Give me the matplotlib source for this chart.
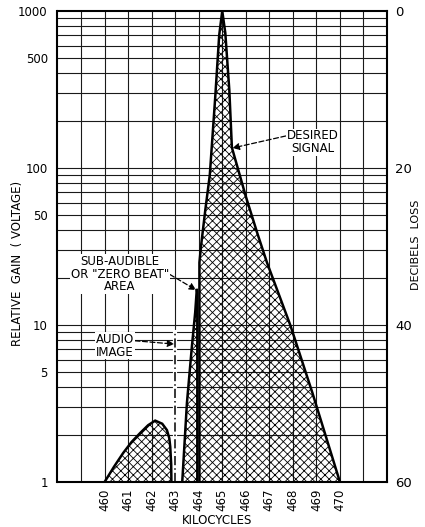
import numpy as np
import matplotlib
matplotlib.use("Agg")
import matplotlib.pyplot as plt

plt.rcParams['font.family'] = ['DejaVu Sans']
plt.rcParams['hatch.linewidth'] = 0.6

# Frequency axis (kHz) and gain axis (relative voltage)
x_min, x_max = 458, 472
x_ticks = [460, 461, 462, 463, 464, 465, 466, 467, 468, 469, 470]
y_ticks = [1, 5, 10, 50, 100, 500, 1000]
db_ticks = [0, 20, 40, 60]

# Main response around the 465 kc intermediate frequency
main_freq = [464.03, 464.03, 464.10, 464.28, 464.47, 464.70, 464.87, 465.00,
             465.13, 465.30, 465.41, 466.00, 466.50, 466.90, 467.90, 468.83, 470.00]
main_gain = [1.0, 25.0, 32.0, 54.0, 90.0, 280.0, 700.0, 1000.0,
             724.0, 314.0, 135.0, 66.0, 38.0, 25.0, 9.9, 3.7, 1.0]

# Sub-audible ("zero beat") spike just below 464 kc
spike_freq = [463.30, 463.50, 463.71, 463.85, 463.92, 463.94, 463.94]
spike_gain = [1.0, 3.2, 7.3, 12.0, 17.0, 16.0, 1.0]

# Low-frequency lobe between 460 and 463 kc
lobe_freq = [460.00, 460.40, 460.79, 461.15, 461.51, 461.85, 462.15, 462.45,
             462.65, 462.75, 462.79, 462.83, 462.84]
lobe_gain = [1.0, 1.25, 1.53, 1.80, 2.05, 2.30, 2.46, 2.35,
             2.14, 1.90, 1.68, 1.30, 1.0]

# Audio image marker
image_freq = 463
image_top = 9.0

fig = plt.figure(figsize=(4.25, 5.27), dpi=100)
ax = fig.add_axes([57.5 / 425, 1 - 482 / 527, 329.5 / 425, 471 / 527])
ax.set_xscale('linear')
ax.set_yscale('log')
ax.set_xlim(x_min, x_max)
ax.set_ylim(1, 1000)

# Grid: every kc vertically, 1..9 per decade horizontally
grid_kw = dict(color='#1a1a1a', lw=0.8, zorder=1)
for f in range(x_min + 1, x_max):
    ax.axvline(f, **grid_kw)
for dec in [1, 10, 100]:
    for m in range(1, 10):
        v = dec * m
        if 1 < v < 1000:
            ax.axhline(v, **grid_kw)

def hatched(fx, gy):
    ax.fill(fx, gy, facecolor='none', edgecolor='black', hatch='xxxx',
            linewidth=0, zorder=2)
    ax.plot(fx, gy, color='black', lw=1.8, zorder=3, solid_joinstyle='miter')

hatched(main_freq, main_gain)
hatched(spike_freq, spike_gain)
hatched(lobe_freq, lobe_gain)

# Audio image: dash-dot marker replacing the grid line
ax.plot([image_freq, image_freq], [1, image_top], color='white', lw=3, zorder=2)
ax.plot([image_freq, image_freq], [1, image_top], color='black', lw=1.1,
        ls=(0, (6, 2, 1, 2)), zorder=3)

for s in ax.spines.values():
    s.set_linewidth(1.5)
    s.set_zorder(4)

ax.set_xticks(x_ticks)
ax.set_xticklabels([str(t) for t in x_ticks], rotation=90, fontsize=8.5)
ax.set_yticks(y_ticks)
ax.set_yticklabels([str(t) for t in y_ticks], fontsize=8.5)
ax.yaxis.set_minor_locator(matplotlib.ticker.NullLocator())
ax.tick_params(axis='both', length=0)
ax.tick_params(axis='y', pad=7)
ax.tick_params(axis='x', pad=5)

# Decibels loss relative to the 1000 reference
ax2 = ax.twinx()
ax2.set_yscale('log')
ax2.set_ylim(1, 1000)
ax2.set_yticks([1000 / 10 ** (d / 20) for d in db_ticks])
ax2.set_yticklabels([str(d) for d in db_ticks], fontsize=9.5)
ax2.yaxis.set_minor_locator(matplotlib.ticker.NullLocator())
ax2.tick_params(axis='y', length=0, pad=6)
for s in ax2.spines.values():
    s.set_visible(False)

box = dict(facecolor='white', edgecolor='none', pad=0.5)
arrow = dict(arrowstyle='-|>', color='black', lw=0.9, ls=(0, (4, 2)),
             mutation_scale=10, shrinkA=0, shrinkB=0)

ax.annotate('DESIRED\nSIGNAL', xy=(465.43, 134), xytext=(468.83, 146),
            ha='center', va='center', fontsize=8.5, linespacing=0.95,
            bbox=box, arrowprops=dict(arrow, relpos=(0.0, 0.75)), zorder=5)
ax.annotate('SUB-AUDIBLE\nOR "ZERO BEAT"\nAREA', xy=(463.89, 16.7), xytext=(460.66, 21.1),
            ha='center', va='center', fontsize=8.5, linespacing=0.95,
            bbox=box, arrowprops=dict(arrow, relpos=(1.0, 0.5)), zorder=5)
ax.annotate('AUDIO\nIMAGE', xy=(462.96, 7.56), xytext=(460.45, 7.37),
            ha='center', va='center', fontsize=8.5, linespacing=0.95,
            bbox=box, arrowprops=dict(arrow, relpos=(1.0, 0.7)), zorder=5)

fig.text(18 / 425, 0.5 + 0.0, 'RELATIVE  GAIN  ( VOLTAGE)', rotation=90,
         ha='center', va='center', fontsize=8.5)
fig.text(416 / 425, 1 - 245 / 527, 'DECIBELS  LOSS', rotation=90,
         ha='center', va='center', fontsize=8)
fig.text(217 / 425, 1 - 520 / 527, 'KILOCYCLES', ha='center', va='center',
         fontsize=8.5)

fig.savefig('out.png', dpi=100, facecolor='white')
